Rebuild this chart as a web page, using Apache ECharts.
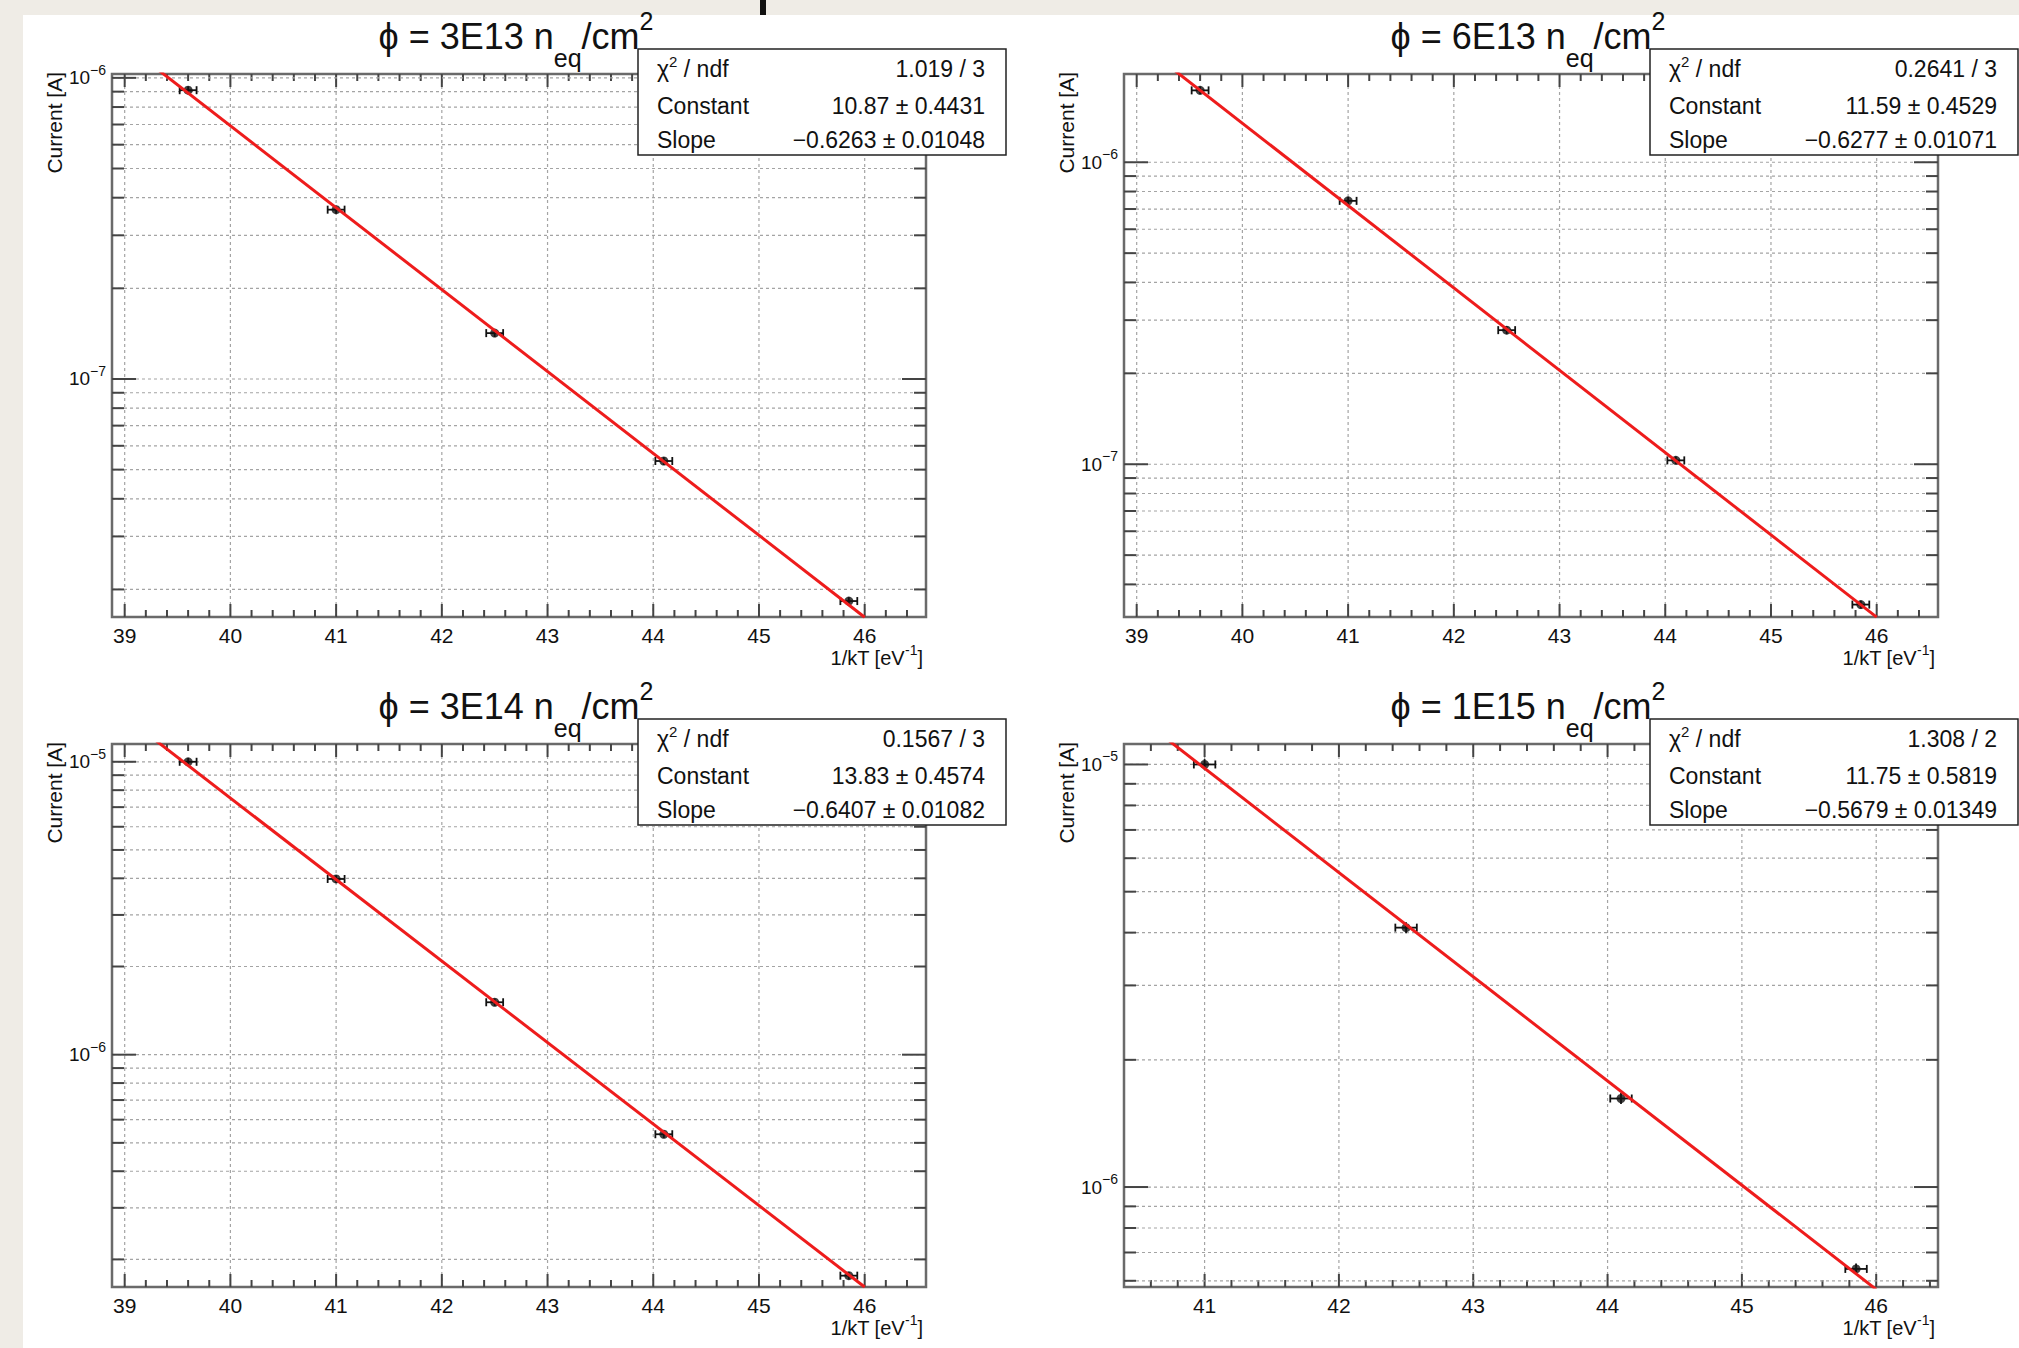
<!DOCTYPE html>
<html>
<head>
<meta charset="utf-8">
<title>Current vs 1/kT</title>
<script src="https://cdn.jsdelivr.net/npm/echarts@6.0.0/dist/echarts.min.js"></script>
<style>
html,body{margin:0;padding:0;background:#efece6;overflow:hidden;}
#chart{width:2019px;height:1348px;}
</style>
</head>
<body>
<div id="chart"></div>
<script>
// ---------------- data ----------------
const fluenceLabels = ['3E13', '6E13', '3E14', '1E15'];

const invKT_3E13 = [39.60, 41.00, 42.50, 44.10, 45.85];
const current_3E13 = [9.1e-7, 3.65e-7, 1.42e-7, 5.34e-8, 1.83e-8];
const invKT_6E13 = [39.60, 41.00, 42.50, 44.10, 45.85];
const current_6E13 = [1.73e-6, 7.45e-7, 2.78e-7, 1.03e-7, 3.43e-8];
const invKT_3E14 = [39.60, 41.00, 42.50, 44.10, 45.85];
const current_3E14 = [1.0e-5, 3.98e-6, 1.51e-6, 5.35e-7, 1.76e-7];
const invKT_1E15 = [41.00, 42.50, 44.10, 45.85];
const current_1E15 = [1.0e-5, 4.11e-6, 1.62e-6, 6.4e-7];

const invKTErr = [0.08, 0.08, 0.08, 0.08, 0.08];
const currentRelErr = [0.03, 0.03, 0.03, 0.03, 0.03];

const chi2Text = ['1.019 / 3', '0.2641 / 3', '0.1567 / 3', '1.308 / 2'];
const constantText = ['10.87 \u00b1 0.4431', '11.59 \u00b1 0.4529', '13.83 \u00b1 0.4574', '11.75 \u00b1 0.5819'];
const slopeText = ['\u22120.6263 \u00b1 0.01048', '\u22120.6277 \u00b1 0.01071', '\u22120.6407 \u00b1 0.01082', '\u22120.5679 \u00b1 0.01349'];
const fitConstant = [10.87, 11.59, 13.83, 11.75];
const fitSlope = [-0.6263, -0.6277, -0.6407, -0.5679];
const fitXEnd = 46;

const xMinVals = [38.88, 38.88, 38.88, 40.40];
const xMaxVals = [46.58, 46.58, 46.58, 46.46];
const yMinVals = [1.62e-8, 3.12e-8, 1.61e-7, 5.8e-7];
const yMaxVals = [1.03e-6, 1.96e-6, 1.15e-5, 1.118e-5];
const xTickLabels = [
  [39, 40, 41, 42, 43, 44, 45, 46],
  [39, 40, 41, 42, 43, 44, 45, 46],
  [39, 40, 41, 42, 43, 44, 45, 46],
  [41, 42, 43, 44, 45, 46]
];
const yAxisTitle = 'Current [A]';
const xAxisTitle = ['1/kT [eV', '-1', ']'];

const xData = [invKT_3E13, invKT_6E13, invKT_3E14, invKT_1E15];
const yData = [current_3E13, current_6E13, current_3E14, current_1E15];

// ---------------- layout / style ----------------
const FONT = '"Liberation Sans", Arial, Helvetica, sans-serif';
const TXT = '#111111', TICK = '#444444', FRAME = '#6a6a6a', GRIDC = '#a4a4a4', RED = '#ee1c1c';
const padX = [0, 1012, 0, 1012], padY = [0, 0, 670, 670];
const G = {left: 112, top: 74, width: 814, height: 543};

const mctx = document.createElement('canvas').getContext('2d');
function tw(t, s) { mctx.font = s + 'px ' + FONT; return mctx.measureText(t).width; }
function pieces(x, y, arr, align, extra) {
  const total = arr.reduce((a, p) => a + tw(p.t, p.s), 0);
  let cx = align === 'center' ? x - total / 2 : (align === 'right' ? x - total : x);
  const out = [];
  arr.forEach(p => {
    out.push(Object.assign({
      type: 'text', x: cx, y: y + (p.dy || 0),
      style: {text: p.t, fontSize: p.s, fontFamily: FONT, fill: TXT, align: 'left', verticalAlign: 'middle'}
    }, extra || {}));
    cx += tw(p.t, p.s);
  });
  return out;
}

const chart = echarts.init(document.getElementById('chart'), null, {renderer: 'svg'});

const grids = [], xAxes = [], yAxes = [], series = [], graphics = [];

graphics.push({type: 'rect', z: -100, shape: {x: 23, y: 15, width: 2000, height: 1340}, style: {fill: '#ffffff'}});
graphics.push({type: 'rect', z: -90, shape: {x: 760, y: 0, width: 6, height: 15}, style: {fill: '#111'}});

for (let i = 0; i < 4; i++) {
  const gl = G.left + padX[i], gt = G.top + padY[i];
  grids.push({left: gl, top: gt, width: G.width, height: G.height, show: true,
    borderColor: FRAME, borderWidth: 2.5, backgroundColor: 'transparent'});
  xAxes.push({type: 'value', gridIndex: i, min: xMinVals[i], max: xMaxVals[i], show: false});
  yAxes.push({type: 'log', logBase: 10, gridIndex: i, min: yMinVals[i], max: yMaxVals[i], show: false});

  // x ticks
  const xt = [];
  const majors = xTickLabels[i];
  for (let k = Math.ceil(xMinVals[i] * 5 + 1e-6); k <= Math.floor(xMaxVals[i] * 5 - 1e-6); k++) {
    const v = k / 5;
    const isMajor = majors.some(m => Math.abs(m - v) < 1e-6) ? 1 : 0;
    xt.push([v, yMinVals[i], isMajor]);
  }
  const ymn = yMinVals[i], xmn = xMinVals[i];
  series.push({
    type: 'custom', xAxisIndex: i, yAxisIndex: i, silent: true, z: 1, data: xt,
    renderItem: function (params, api) {
      const v = api.value(0), major = api.value(2);
      const cs = params.coordSys;
      const px = api.coord([v, ymn])[0];
      const top = cs.y, bot = cs.y + cs.height;
      const L = major ? 13 : 7;
      const ch = [];
      if (major) ch.push({type: 'line', shape: {x1: px, y1: top, x2: px, y2: bot}, style: {stroke: GRIDC, lineWidth: 1.2, lineDash: [3, 3]}});
      ch.push({type: 'line', shape: {x1: px, y1: bot, x2: px, y2: bot - L}, style: {stroke: TICK, lineWidth: 2}});
      ch.push({type: 'line', shape: {x1: px, y1: top, x2: px, y2: top + L}, style: {stroke: TICK, lineWidth: 2}});
      if (major) ch.push({type: 'text', x: px, y: bot + 8, style: {text: String(Math.round(v)), fontSize: 21, fontFamily: FONT, fill: TXT, align: 'center', verticalAlign: 'top'}});
      return {type: 'group', children: ch};
    }
  });

  // y ticks
  const yt = [];
  for (let e = Math.floor(Math.log10(yMinVals[i])); e <= Math.ceil(Math.log10(yMaxVals[i])); e++) {
    for (let m = 1; m <= 9; m++) {
      const v = m * Math.pow(10, e);
      if (v >= yMinVals[i] * 0.999 && v <= yMaxVals[i] * 1.001) yt.push([xmn, v, m === 1 ? 1 : 0, e]);
    }
  }
  series.push({
    type: 'custom', xAxisIndex: i, yAxisIndex: i, silent: true, z: 1, data: yt,
    renderItem: function (params, api) {
      const v = api.value(1), major = api.value(2), ex = api.value(3);
      const cs = params.coordSys;
      const py = api.coord([xmn, v])[1];
      const left = cs.x, right = cs.x + cs.width;
      const L = major ? 24 : 12;
      const ch = [];
      ch.push({type: 'line', shape: {x1: left, y1: py, x2: right, y2: py}, style: {stroke: GRIDC, lineWidth: 1.2, lineDash: [3, 3]}});
      ch.push({type: 'line', shape: {x1: left, y1: py, x2: left + L, y2: py}, style: {stroke: TICK, lineWidth: 2}});
      ch.push({type: 'line', shape: {x1: right, y1: py, x2: right - L, y2: py}, style: {stroke: TICK, lineWidth: 2}});
      if (major) {
        const lab = pieces(left - 6, py, [{t: '10', s: 19, dy: 0}, {t: '\u2212' + Math.abs(ex), s: 14, dy: -8}], 'right');
        lab.forEach(o => ch.push(o));
      }
      return {type: 'group', children: ch};
    }
  });

  // error bars
  const eb = xData[i].map((x, j) => [x, yData[i][j], invKTErr[j], yData[i][j] * currentRelErr[j]]);
  series.push({
    type: 'custom', xAxisIndex: i, yAxisIndex: i, silent: true, z: 3, data: eb,
    renderItem: function (params, api) {
      const x = api.value(0), y = api.value(1), xe = api.value(2), ye = api.value(3);
      const a = api.coord([x - xe, y]), b = api.coord([x + xe, y]);
      const c = api.coord([x, y - ye]), d = api.coord([x, y + ye]);
      const st = {stroke: '#111', lineWidth: 1.8};
      return {type: 'group', children: [
        {type: 'line', shape: {x1: a[0], y1: a[1], x2: b[0], y2: b[1]}, style: st},
        {type: 'line', shape: {x1: a[0], y1: a[1] - 4, x2: a[0], y2: a[1] + 4}, style: st},
        {type: 'line', shape: {x1: b[0], y1: b[1] - 4, x2: b[0], y2: b[1] + 4}, style: st},
        {type: 'line', shape: {x1: c[0], y1: c[1], x2: d[0], y2: d[1]}, style: st}
      ]};
    }
  });

  // points
  series.push({
    type: 'scatter', xAxisIndex: i, yAxisIndex: i, silent: true, z: 4,
    symbol: 'circle', symbolSize: 9, itemStyle: {color: '#111'},
    data: xData[i].map((x, j) => [x, yData[i][j]])
  });

  // fit line (expo: exp(Constant + Slope*x))
  const fx = [xMinVals[i], fitXEnd];
  series.push({
    type: 'line', xAxisIndex: i, yAxisIndex: i, silent: true, z: 5, clip: true,
    showSymbol: false, symbol: 'none', lineStyle: {color: RED, width: 3},
    data: fx.map(x => [x, Math.exp(fitConstant[i] + fitSlope[i] * x)])
  });

  // title
  const tcx = 516 + padX[i], tcy = 36 + padY[i];
  pieces(tcx, tcy, [
    {t: '\u03d5 = ' + fluenceLabels[i] + ' n', s: 36, dy: 0},
    {t: 'eq', s: 25, dy: 22},
    {t: '/cm', s: 36, dy: 0},
    {t: '2', s: 25, dy: -15}
  ], 'center', {z: 20}).forEach(o => graphics.push(o));

  // y axis title (rotated)
  graphics.push({type: 'text', x: 54 + padX[i], y: 72 + padY[i], rotation: Math.PI / 2, z: 20,
    style: {text: yAxisTitle, fontSize: 21, fontFamily: FONT, fill: TXT, align: 'right', verticalAlign: 'middle'}});

  // x axis title
  pieces(gl + G.width - 3, gt + G.height + 41, [
    {t: xAxisTitle[0], s: 20, dy: 0}, {t: xAxisTitle[1], s: 14, dy: -8}, {t: xAxisTitle[2], s: 20, dy: 0}
  ], 'right', {z: 20}).forEach(o => graphics.push(o));

  // stats box
  const bx = 638 + padX[i], by = 49 + padY[i], bw = 368, bh = 106;
  graphics.push({type: 'rect', z: 50, shape: {x: bx, y: by, width: bw, height: bh},
    style: {fill: '#ffffff', stroke: '#222', lineWidth: 1.5}});
  pieces(bx + 19, by + 20, [{t: '\u03c7', s: 23, dy: 0}, {t: '2', s: 15, dy: -8}, {t: ' / ndf', s: 23, dy: 0}], 'left', {z: 51}).forEach(o => graphics.push(o));
  graphics.push({type: 'text', z: 51, x: bx + 19, y: by + 57, style: {text: 'Constant', fontSize: 23, fontFamily: FONT, fill: TXT, align: 'left', verticalAlign: 'middle'}});
  graphics.push({type: 'text', z: 51, x: bx + 19, y: by + 91, style: {text: 'Slope', fontSize: 23, fontFamily: FONT, fill: TXT, align: 'left', verticalAlign: 'middle'}});
  graphics.push({type: 'text', z: 51, x: bx + bw - 21, y: by + 20, style: {text: chi2Text[i], fontSize: 23, fontFamily: FONT, fill: TXT, align: 'right', verticalAlign: 'middle'}});
  graphics.push({type: 'text', z: 51, x: bx + bw - 21, y: by + 57, style: {text: constantText[i], fontSize: 23, fontFamily: FONT, fill: TXT, align: 'right', verticalAlign: 'middle'}});
  graphics.push({type: 'text', z: 51, x: bx + bw - 21, y: by + 91, style: {text: slopeText[i], fontSize: 23, fontFamily: FONT, fill: TXT, align: 'right', verticalAlign: 'middle'}});
}

chart.setOption({
  animation: false,
  backgroundColor: '#efece6',
  grid: grids,
  xAxis: xAxes,
  yAxis: yAxes,
  series: series,
  graphic: {elements: graphics}
});
</script>
</body>
</html>
